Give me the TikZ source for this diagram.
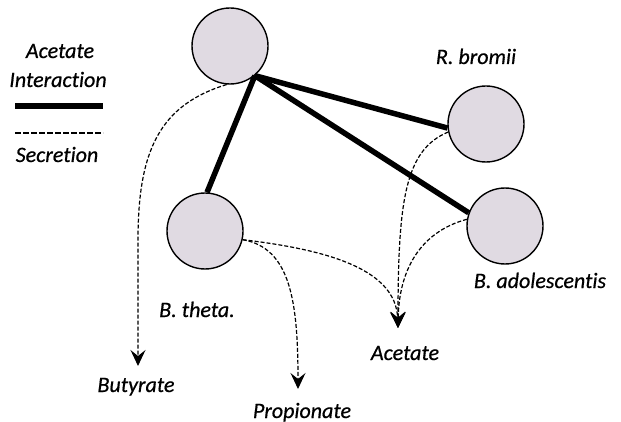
\documentclass[tikz,border=0pt]{standalone}
\usepackage{fontspec}
\setmainfont[RawFeature=-liga, FakeBold=0.6]{Carlito}
\usetikzlibrary{arrows.meta}
\definecolor{cellfill}{RGB}{224,218,226}

\begin{document}
\begin{tikzpicture}[x=1pt, y=-1pt,
    cell/.style={circle, draw, line width=1.4pt, fill=cellfill, minimum size=76pt, inner sep=0pt},
    interact/.style={line width=5.5pt},
    secrete/.style={line width=1.2pt, dash pattern=on 4pt off 2pt, -{Stealth[length=16pt, width=15pt, inset=6pt]}},
    lbl/.style={font=\fontsize{22}{26}\selectfont\itshape, anchor=base, inner sep=0pt}]

    \useasboundingbox (0,0) rectangle (621,422);

    % cells
    \node[cell] (top) at (230,46) {};
    \node[cell] (rbromii) at (486,124) {};
    \node[cell] (badol) at (505,226) {};
    \node[cell] (btheta) at (205,231) {};

    \node[lbl] (rbromiilbl) at (476,64) {R. bromii};
    \node[lbl] (badollbl) at (540,288) {B. adolescentis};
    \node[lbl] (bthetalbl) at (197,317) {B. theta.};

    % acetate interactions
    \draw[interact] (top.-50) -- (btheta.87);
    \draw[interact] (top.-50) -- (rbromii.186);
    \draw[interact] (top.-50) -- (badol.160);

    % secretion products
    \coordinate (buttip) at (138,366);
    \coordinate (proptip) at (298,389);
    \coordinate (acetip) at (398,328);

    \node[lbl] (butyrate) at (136,392) {Butyrate};
    \node[lbl] (propionate) at (302,418) {Propionate};
    \node[lbl] (acetate) at (405,360) {Acetate};

    \draw[secrete] (top.-95) .. controls (160,105) and (138,150) .. (138,240) -- (buttip);
    \draw[secrete] (btheta.-13) .. controls (290,248) and (298,300) .. (proptip);
    \draw[secrete] (btheta.-13) .. controls (330,250) and (396,270) .. (acetip);
    \draw[secrete] (rbromii.192) .. controls (405,150) and (398,200) .. (acetip);
    \draw[secrete] (badol.170) .. controls (420,232) and (399,270) .. (acetip);

    % legend
    \node[lbl] (legacetate) at (60,58) {Acetate};
    \node[lbl] (leginteract) at (58,87) {Interaction};
    \coordinate (lineA) at (15,106);
    \coordinate (lineB) at (103,106);
    \draw[interact] (lineA) -- (lineB);
    \coordinate (dashA) at (15,133);
    \coordinate (dashB) at (103,133);
    \draw[line width=1.3pt, dash pattern=on 5.5pt off 2.5pt] (dashA) -- (dashB);
    \node[lbl] (legsecrete) at (57,162) {Secretion};

\end{tikzpicture}
\end{document}
